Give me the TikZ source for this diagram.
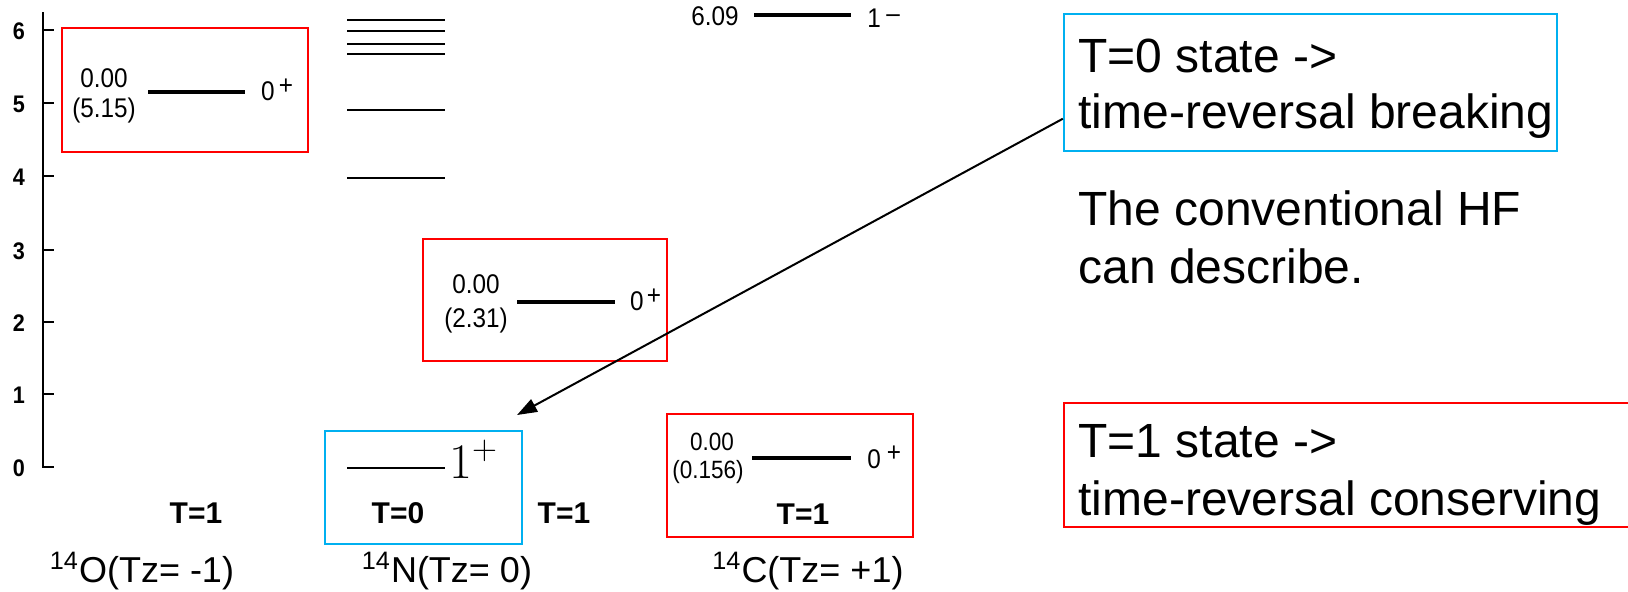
\documentclass[tikz,border=0pt]{standalone}
\usepackage{fontspec}
\setmainfont{Liberation Sans}
\newfontfamily\dinfont[FakeStretch=0.9]{Liberation Sans}
\usetikzlibrary{arrows.meta,fit,calc}
\definecolor{boxred}{RGB}{255,0,0}
\definecolor{boxblue}{RGB}{0,176,240}
\begin{document}
\begin{tikzpicture}[x=0.5pt,y=-0.5pt,
 redbox/.style={draw=boxred,line width=1.2pt,inner sep=0pt},
 bluebox/.style={draw=boxblue,line width=1.2pt,inner sep=0pt},
 lvl/.style={line width=1.6pt},
 exlvl/.style={line width=1.1pt},
 axisline/.style={line width=1pt},
 ticklbl/.style={font=\dinfont\bfseries\fontsize{12}{14}\selectfont},
 enlbl/.style={font=\dinfont\fontsize{13.5}{15}\selectfont, anchor=base, inner sep=0pt},
 tlbl/.style={font=\bfseries\fontsize{15}{17}\selectfont, anchor=base, inner sep=0pt},
 isolbl/.style={font=\fontsize{18}{21}\selectfont, anchor=base, inner sep=0pt},
 bigtxt/.style={font=\fontsize{24}{28}\selectfont, anchor=base west, inner sep=0pt},
 pointer/.style={line width=1pt,-{Triangle[length=10pt,width=7pt]}}]

\useasboundingbox (0,0) rectangle (1628,591);

% energy axis
\coordinate (axtop) at (43,12);
\coordinate (ax0) at (43,467);
\draw[axisline] (axtop) -- (ax0) -- ++(11,0);
\foreach \e/\y in {6/30,5/103,4/176,3/250,2/322,1/394}{
  \draw[axisline] (43,\y) -- (54,\y);
}
\foreach \e/\y in {6/31,5/104,4/177,3/251,2/323,1/395,0/468}{
  \node[ticklbl] (tick\e) at (19,\y) {\e};
}

% 14O
\node[redbox, fit={(62,28) (308,152)}] (boxO) {};
\draw[lvl] (148,92) -- (245,92);
\node[enlbl] (oE) at (104,87) {0.00};
\node[enlbl] (oEx) at (104,117) {(5.15)};
\node[enlbl] (oJ) at (268,100) {0};
\node[enlbl] (oP) at (286,94) {+};
\node[tlbl] (oT) at (196,523) {T=1};
\node[isolbl] (isoO) at (142,582) {\textsuperscript{14}O(Tz= -1)};

% 14N excited levels
\foreach \y in {20,31,44,54,110,178}{
  \draw[exlvl] (347,\y) -- (445,\y);
}
\node[redbox, fit={(423,239) (667,361)}] (boxN1) {};
\draw[lvl] (517,302) -- (615,302);
\node[enlbl] (nE) at (476,293) {0.00};
\node[enlbl] (nEx) at (476,327) {(2.31)};
\node[enlbl] (nJ) at (637,310) {0};
\node[enlbl] (nP) at (654,304) {+};
\node[tlbl] (nT1) at (564,523) {T=1};

\node[bluebox, fit={(325,431) (522,544)}] (boxN0) {};
\draw[exlvl] (347,468) -- (445,468);
\node[anchor=base west, inner sep=0pt, font=\fontsize{27}{30}\selectfont] (nGs) at (449,478) {$1^{+}$};
\node[tlbl] (nT0) at (398,523) {T=0};
\node[isolbl] (isoN) at (447,582) {\textsuperscript{14}N(Tz= 0)};

% 14C
\node[enlbl] (cHigh) at (715,25) {6.09};
\draw[lvl] (754,15) -- (851,15);
\node[enlbl] (cHighJ) at (874,27) {1};
\node[enlbl] (cHighP) at (893,22) {–};
\node[redbox, fit={(667,414) (913,537)}] (boxC) {};
\draw[lvl] (752,458) -- (851,458);
\node[enlbl, font=\dinfont\fontsize{12.5}{14}\selectfont] (cE) at (712,450) {0.00};
\node[enlbl, font=\dinfont\fontsize{12.5}{14}\selectfont] (cEx) at (708,478) {(0.156)};
\node[enlbl] (cJ) at (874,468) {0};
\node[enlbl] (cP) at (894,461) {+};
\node[tlbl] (cT) at (803,524) {T=1};
\node[isolbl] (isoC) at (808,582) {\textsuperscript{14}C(Tz= +1)};

% explanations
\node[bluebox, fit={(1064,14) (1557,151)}] (boxT0) {};
\node[bigtxt] (t0a) at (1078,72) {T=0 state ->};
\node[bigtxt] (t0b) at (1078,128) {time-reversal breaking};
\node[bigtxt] (hfa) at (1078,225) {The conventional HF};
\node[bigtxt] (hfb) at (1078,283) {can describe.};
\node[redbox, fit={(1064,403) (1636,527)}] (boxT1) {};
\node[bigtxt] (t1a) at (1078,457) {T=1 state ->};
\node[bigtxt] (t1b) at (1078,515) {time-reversal conserving};

% pointer
\coordinate (tip) at (517,415);
\draw[pointer] ($(boxT0.south west)!0.24!(boxT0.north west)$) -- (tip);
\end{tikzpicture}
\end{document}
